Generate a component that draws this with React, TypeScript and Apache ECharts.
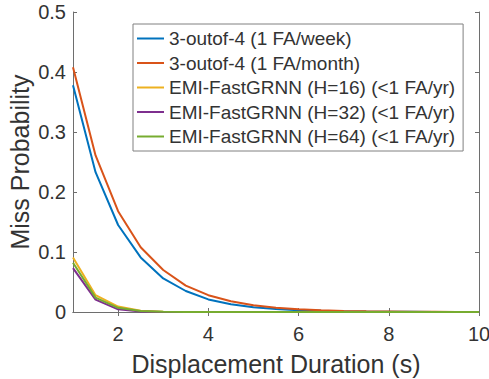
import React, { useEffect, useRef } from "react";
import * as echarts from "echarts";

const durations = [1, 1.5, 2, 2.5, 3, 3.5, 4, 4.5, 5, 5.5, 6, 6.5, 7, 7.5, 8, 8.5, 9, 9.5, 10];
const week = [0.378, 0.233, 0.145, 0.091, 0.056, 0.035, 0.021, 0.013, 0.0078, 0.0048, 0.003, 0.0019, 0.0012, 0.0008, 0.0005, 0.0003, 0.0002, 0.0001, 0.0001];
const month = [0.408, 0.261, 0.168, 0.108, 0.07, 0.044, 0.028, 0.018, 0.0112, 0.0072, 0.0046, 0.0029, 0.0018, 0.0012, 0.0008, 0.0005, 0.0003, 0.0002, 0.0001];
const h16 = [0.091, 0.028, 0.009, 0.002, 0.0005, 0.0002, 0.0001, 0, 0, 0, 0, 0, 0, 0, 0, 0, 0, 0, 0];
const h32 = [0.073, 0.0205, 0.0045, 0.001, 0.0002, 0.0001, 0, 0, 0, 0, 0, 0, 0, 0, 0, 0, 0, 0, 0];
const h64 = [0.082, 0.024, 0.007, 0.0015, 0.0003, 0.0001, 0, 0, 0, 0, 0, 0, 0, 0, 0, 0, 0, 0, 0];
const seriesNames = [
  "3-outof-4 (1 FA/week)",
  "3-outof-4 (1 FA/month)",
  "EMI-FastGRNN (H=16) (<1 FA/yr)",
  "EMI-FastGRNN (H=32) (<1 FA/yr)",
  "EMI-FastGRNN (H=64) (<1 FA/yr)",
];
const seriesValues = [week, month, h16, h32, h64];
const colors = ["#0072BD", "#D95319", "#EDB120", "#7E2F8E", "#77AC30"];
const xTicks = [2, 4, 6, 8, 10];

const FONT = "'Liberation Sans', Arial, Helvetica, sans-serif";
const TEXT = "#333333";
const AXIS = "#6e6e6e";

export default function App() {
  const ref = useRef<HTMLDivElement>(null);
  useEffect(() => {
    if (!ref.current) return;
    const chart = echarts.init(ref.current, null, { renderer: "svg" });
    const axisLine = { show: true, lineStyle: { color: AXIS, width: 1 } };
    const tick = { show: true, inside: true, length: 4, lineStyle: { color: AXIS } };
    chart.setOption({
      animation: false,
      color: colors,
      textStyle: { fontFamily: FONT },
      grid: { left: 73, right: 10, top: 12, bottom: 67, containLabel: false, outerBoundsMode: "none" },
      legend: {
        orient: "vertical",
        left: 133,
        top: 24,
        padding: [5, 8, 5, 4],
        icon: "rect",
        itemWidth: 27,
        itemHeight: 2,
        itemGap: 5.5,
        backgroundColor: "#ffffff",
        borderColor: "#808080",
        borderWidth: 1,
        textStyle: { fontSize: 19, color: TEXT, fontFamily: FONT, lineHeight: 19 },
        data: seriesNames,
      },
      xAxis: [
        {
          type: "value",
          position: "bottom",
          min: 1,
          max: 10,
          name: "Displacement Duration (s)",
          nameLocation: "middle",
          nameGap: 39,
          nameMoveOverlap: false,
          nameTextStyle: { fontSize: 25, color: TEXT, fontFamily: FONT },
          axisLine,
          axisTick: { ...tick, customValues: xTicks },
          axisLabel: { customValues: xTicks, fontSize: 20, color: TEXT, margin: 12, fontFamily: FONT },
          splitLine: { show: false },
        },
        {
          type: "value",
          position: "top",
          min: 1,
          max: 10,
          axisLine,
          axisTick: { ...tick, customValues: xTicks },
          axisLabel: { show: false },
          splitLine: { show: false },
        },
      ],
      yAxis: [
        {
          type: "value",
          position: "left",
          min: 0,
          max: 0.5,
          interval: 0.1,
          name: "Miss Probability",
          nameLocation: "middle",
          nameGap: 41,
          nameMoveOverlap: false,
          nameTextStyle: { fontSize: 25, color: TEXT, fontFamily: FONT },
          axisLine,
          axisTick: tick,
          axisLabel: { fontSize: 20, color: TEXT, margin: 7, fontFamily: FONT },
          splitLine: { show: false },
        },
        {
          type: "value",
          position: "right",
          min: 0,
          max: 0.5,
          interval: 0.1,
          axisLine,
          axisTick: tick,
          axisLabel: { show: false },
          splitLine: { show: false },
        },
      ],
      series: seriesNames.map((name, i) => ({
        name,
        type: "line",
        xAxisIndex: 0,
        yAxisIndex: 0,
        symbol: "none",
        lineStyle: { width: 2, color: colors[i] },
        itemStyle: { color: colors[i] },
        data: durations.map((d, j) => [d, seriesValues[i][j]]),
      })),
    });
    return () => chart.dispose();
  }, []);
  return (
    <div
      ref={ref}
      style={{ position: "fixed", left: 0, top: 0, width: 489, height: 379, background: "#fff" }}
    />
  );
}
